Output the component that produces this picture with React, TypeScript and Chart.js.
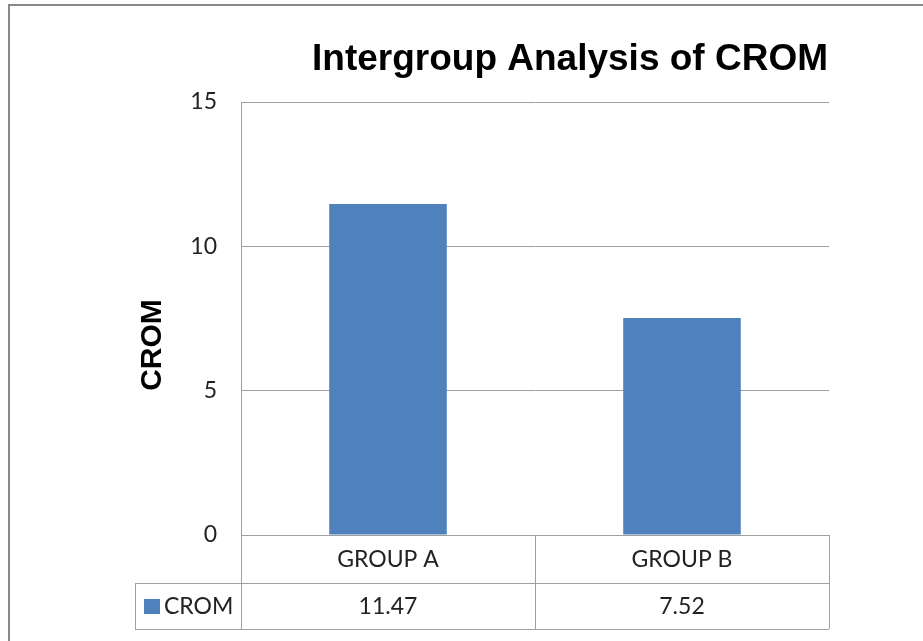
import React, { useEffect, useRef } from "react";
import { Chart, registerables } from "chart.js";

Chart.register(...registerables);

const categories = ["GROUP A", "GROUP B"];
const seriesName = "CROM";
const cromValues = [11.47, 7.52];
const valueLabels = ["11.47", "7.52"];
const chartTitle = "Intergroup Analysis of CROM";
const yTitle = "CROM";

const BAR = "#4F81BD";
const LINE = "#a0a0a0";
const TEXT = "#222222";
const LABEL_FONT = "23px Lato";

const tablePlugin = {
  id: "excelTable",
  afterDraw(chart: any) {
    const ctx = chart.ctx;
    const area = chart.chartArea;
    const xs = chart.scales.x;
    ctx.save();
    // outer frame
    ctx.strokeStyle = "#888888";
    ctx.lineWidth = 2;
    ctx.beginPath();
    ctx.moveTo(9, chart.height);
    ctx.lineTo(9, 5);
    ctx.lineTo(chart.width, 5);
    ctx.stroke();

    // title
    ctx.fillStyle = "#000";
    ctx.font = "bold 37px 'Liberation Sans', Arial, sans-serif";
    ctx.textAlign = "center";
    ctx.textBaseline = "alphabetic";
    ctx.fillText(chartTitle, 570, 70);

    // y title
    ctx.save();
    ctx.translate(161, 345);
    ctx.rotate(-Math.PI / 2);
    ctx.font = "bold 30px 'Liberation Sans', Arial, sans-serif";
    ctx.textBaseline = "alphabetic";
    ctx.fillText(yTitle, 0, 0);
    ctx.restore();

    // table
    const row1Top = area.bottom;
    const row1Bot = row1Top + 48;
    const row2Bot = row1Bot + 46;
    const tableLeft = 135;
    const n = categories.length;
    const half = (area.right - area.left) / n / 2;
    const bounds: number[] = [];
    for (let i = 0; i < n; i++) bounds.push(xs.getPixelForValue(i) - half);
    bounds.push(xs.getPixelForValue(n - 1) + half);

    ctx.strokeStyle = LINE;
    ctx.lineWidth = 1;
    ctx.beginPath();
    ctx.moveTo(area.left, row1Top + 0.5);
    ctx.lineTo(area.right, row1Top + 0.5);
    ctx.moveTo(tableLeft, row1Bot + 0.5);
    ctx.lineTo(area.right, row1Bot + 0.5);
    ctx.moveTo(tableLeft, row2Bot + 0.5);
    ctx.lineTo(area.right, row2Bot + 0.5);
    ctx.moveTo(tableLeft + 0.5, row1Bot);
    ctx.lineTo(tableLeft + 0.5, row2Bot);
    bounds.forEach((b) => {
      const x = Math.round(b) + 0.5;
      ctx.moveTo(x, row1Top);
      ctx.lineTo(x, row2Bot);
    });
    ctx.stroke();

    ctx.fillStyle = TEXT;
    ctx.font = LABEL_FONT;
    ctx.textAlign = "center";
    ctx.textBaseline = "middle";
    categories.forEach((c, i) => {
      const cx = xs.getPixelForValue(i);
      ctx.fillText(c, cx, (row1Top + row1Bot) / 2 + 1);
      ctx.fillText(valueLabels[i], cx, (row1Bot + row2Bot) / 2 + 1);
    });

    // legend key
    ctx.fillStyle = BAR;
    ctx.fillRect(144, 599, 16, 15);
    ctx.fillStyle = TEXT;
    ctx.textAlign = "left";
    ctx.fillText(seriesName, 164, (row1Bot + row2Bot) / 2 + 1);
    ctx.restore();
  },
};

export default function App() {
  const ref = useRef<HTMLCanvasElement>(null);
  useEffect(() => {
    if (!ref.current) return;
    const chart = new Chart(ref.current, {
      type: "bar",
      data: {
        labels: categories,
        datasets: [
          {
            label: seriesName,
            data: cromValues,
            backgroundColor: BAR,
            borderWidth: 0,
            barPercentage: 0.4,
            categoryPercentage: 1,
          },
        ],
      },
      options: {
        animation: false,
        responsive: true,
        maintainAspectRatio: false,
        layout: { padding: { top: 102, right: 94, bottom: 106, left: 0 } },
        plugins: { legend: { display: false }, title: { display: false }, tooltip: { enabled: false } },
        scales: {
          x: { display: false },
          y: {
            min: 0,
            max: 15,
            ticks: { stepSize: 5, font: { family: "Lato", size: 23 }, color: TEXT, padding: 24 },
            grid: { color: LINE, drawTicks: false },
            border: { display: true, color: LINE },
            afterFit: (s: any) => {
              s.width = 241;
            },
          },
        },
      },
      plugins: [tablePlugin],
    });
    return () => chart.destroy();
  }, []);
  return (
    <div style={{ position: "fixed", left: 0, top: 0, width: 923, height: 641, background: "#fff" }}>
      <canvas ref={ref} />
    </div>
  );
}
